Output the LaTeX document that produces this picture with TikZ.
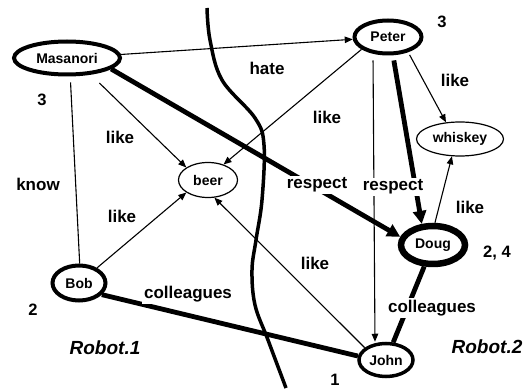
\documentclass[tikz,border=0pt]{standalone}
\usepackage{fontspec}
\setmainfont{Liberation Sans}
\usetikzlibrary{arrows.meta,shapes.geometric}

\begin{document}
\begin{tikzpicture}[x=1pt,y=-1pt,
  person/.style={ellipse,draw,inner sep=0pt,font=\fontsize{14}{16}\selectfont\bfseries},
  thing/.style={ellipse,draw,line width=1.2pt,inner sep=0pt,font=\fontsize{14}{16}\selectfont\bfseries},
  thinarr/.style={line width=1.1pt,-{Triangle[length=8pt,width=6.5pt]}},
  thinline/.style={line width=1.1pt},
  thickarr/.style={line width=4.8pt,-{Triangle[length=13pt,width=13pt]}},
  thickline/.style={line width=4.8pt},
  lbl/.style={font=\fontsize{17}{19}\selectfont\bfseries,inner sep=1pt},
  lblw/.style={lbl,fill=white,inner sep=2pt},
  num/.style={font=\fontsize{16.5}{19}\selectfont\bfseries,inner sep=0pt},
  robot/.style={font=\fontsize{19}{22}\selectfont\bfseries\itshape,inner sep=0pt}
]
\useasboundingbox (0,0) rectangle (531,390);

% border between the two robots
\draw[line width=3.5pt] plot[smooth,tension=0.6] coordinates
  {(207,8) (210,40) (222,80) (255,118) (264,145) (262,200) (256,240)
   (252,270) (255,305) (268,340) (286,388)};

% people and things
\node[person,line width=4pt,minimum width=106pt,minimum height=33pt] (M) at (67,58) {Masanori};
\node[person,line width=4pt,minimum width=67pt,minimum height=33pt] (P) at (388,37) {Peter};
\node[person,line width=4pt,minimum width=53pt,minimum height=35pt] (B) at (79,283) {Bob};
\node[person,line width=6.5pt,minimum width=64pt,minimum height=38pt] (D) at (433,245) {Doug};
\node[person,line width=3.5pt,minimum width=54pt,minimum height=33pt] (J) at (386,360) {John};
\node[thing,minimum width=59pt,minimum height=35pt] (beer) at (208,180) {beer};
\node[thing,minimum width=87pt,minimum height=34pt] (wh) at (460,139) {whiskey};

% relations
\draw[thinarr] (M) -- (P);
\draw[thinarr,shorten <=12pt] (M.-35) -- (beer.150);
\draw[thickarr] (M.-14) -- (D.166);
\draw[thinline,shorten <=6pt] (M.-80) -- (B.88);
\draw[thinarr] (P.205) -- (beer.45);
\draw[thinarr,shorten <=3pt] (P.-37) -- (wh.130);
\draw[thinarr,shorten <=5pt] ([xshift=-15pt]P.south) -- ([xshift=-11pt]J.north);
\draw[thickarr,shorten <=5pt] ([xshift=5pt]P.south) -- (D.118);
\draw[thinarr] (D.85) -- (wh.-115);
\draw[thickline] (D) -- (J);
\draw[thickline] (B.-27) -- (J.172);
\draw[thinarr] (B.40) -- (beer.-150);
\draw[thinarr] (J.150) -- (beer.-70);

% relation labels
\node[lbl] at (267,68) {hate};
\node[lbl] at (120,137) {like};
\node[lbl] at (38,184) {know};
\node[lbl] at (122,216) {like};
\node[lbl] at (327,117) {like};
\node[lbl] at (455,80) {like};
\node[lbl] at (470,207) {like};
\node[lbl] at (315,263) {like};
\node[lblw] at (317,185) {respect};
\node[lblw] at (393,187) {respect};
\node[lblw] at (432,308) {colleagues};
\node[lblw] at (188,294) {colleagues};

% counts
\node[num] at (42,100) {3};
\node[num] at (442,22) {3};
\node[num] at (33,310) {2};
\node[num] at (497,253) {2, 4};
\node[num] at (335,380) {1};

\node[robot] at (105,348) {Robot.1};
\node[robot] at (487,347) {Robot.2};
\end{tikzpicture}
\end{document}
